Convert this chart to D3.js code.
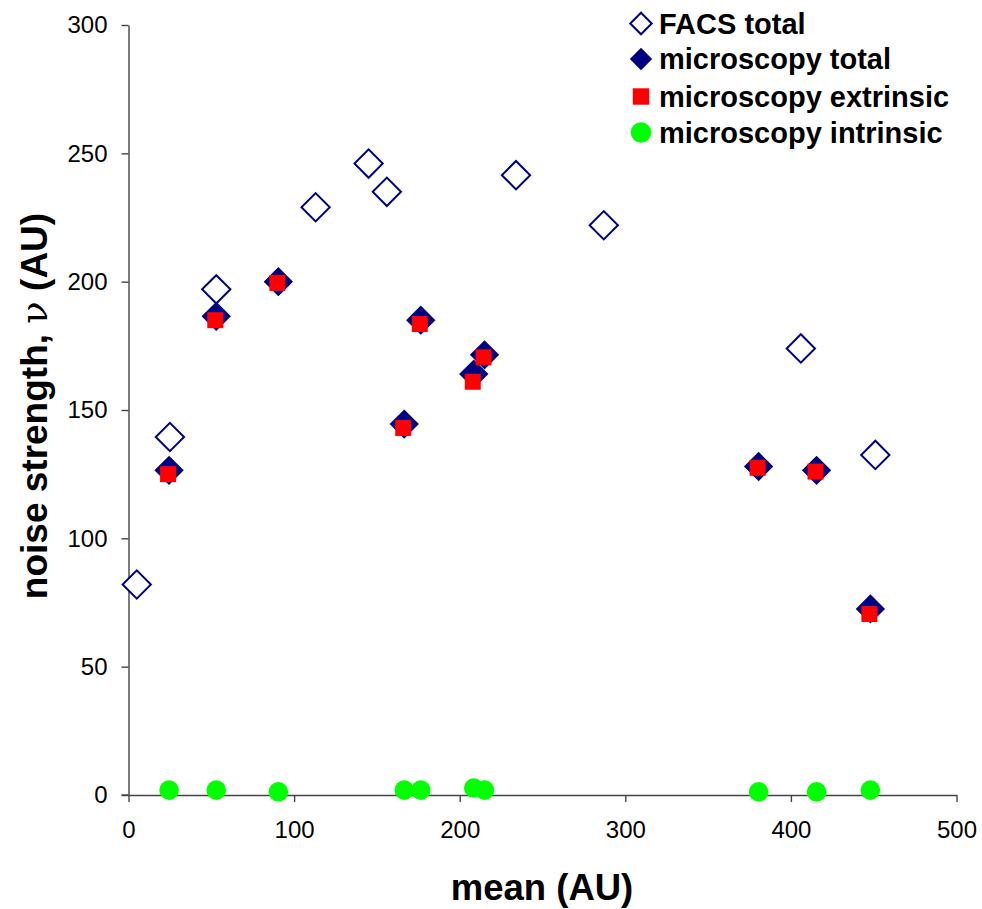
<!DOCTYPE html>
<html>
<head>
<meta charset="utf-8">
<script src="https://cdn.jsdelivr.net/npm/d3@7"></script>
<style>
  body { margin: 0; background: #fff; }
  svg { font-family: "Liberation Sans", Arial, sans-serif; }
</style>
</head>
<body>
<svg width="982" height="909"></svg>
<script>
// values
let facsMean = [5, 25, 53, 113, 145, 156, 234, 287, 406, 451];
let facsNoise = [82, 139.5, 197, 229, 246, 235, 241.5, 222, 174, 132.5];

let microMean = [24.5, 53, 90.5, 166.5, 176.5, 208.5, 215, 380.5, 415.5, 448];
let microTotal = [126.5, 186.5, 200, 144.5, 185, 164, 171.5, 128, 126.5, 72.5];
let microExtrinsic = [125, 185, 199.5, 143, 183.5, 161, 170.5, 127.5, 126, 70.5];
let microIntrinsic = [1.9, 1.9, 1.2, 1.9, 1.9, 2.7, 1.9, 1.2, 1.2, 1.9];

let xTicks = [0, 100, 200, 300, 400, 500];
let yTicks = [0, 50, 100, 150, 200, 250, 300];
let legendNames = ['FACS total', 'microscopy total', 'microscopy extrinsic', 'microscopy intrinsic'];

let svg = d3.select('svg');
let navy = '#000080';

let x = d3.scaleLinear().domain([0, 500]).range([128.5, 956.5]);
let y = d3.scaleLinear().domain([0, 300]).range([795, 25]);

// axes
let xAxis = svg.append('g')
  .attr('transform', 'translate(0,' + y(0) + ')')
  .call(d3.axisBottom(x).tickValues(xTicks).tickSize(7).tickPadding(19).tickSizeOuter(0));
let yAxis = svg.append('g')
  .attr('transform', 'translate(' + x(0) + ',0)')
  .call(d3.axisLeft(y).tickValues(yTicks).tickSize(7).tickPadding(14).tickSizeOuter(0));

[xAxis, yAxis].forEach(a => {
  a.select('.domain').attr('stroke', '#444').attr('stroke-width', 1.4);
  a.selectAll('.tick line').attr('stroke', '#444').attr('stroke-width', 1.4);
  a.selectAll('.tick text')
    .attr('fill', '#000')
    .style('font-size', '24px')
    .style('font-family', '"Liberation Sans", Arial, sans-serif');
});
// x axis line also runs under the y axis tick
svg.append('line')
  .attr('x1', x(0) - 7).attr('x2', x(0))
  .attr('y1', y(0)).attr('y2', y(0))
  .attr('stroke', '#444').attr('stroke-width', 1.4);

// marker shapes
let diamond = d3.symbol().type(d3.symbolSquare).size(400);
let diamondBig = d3.symbol().type(d3.symbolSquare).size(430);
let square = d3.symbol().type(d3.symbolSquare).size(256);

// FACS total (open diamonds)
svg.append('g').selectAll('path')
  .data(facsMean)
  .enter()
  .append('path')
  .attr('d', diamond())
  .attr('transform', (d, i) => 'translate(' + x(d) + ',' + y(facsNoise[i]) + ') rotate(45)')
  .attr('fill', '#fff')
  .attr('stroke', navy)
  .attr('stroke-width', 2);

// microscopy total (filled diamonds)
svg.append('g').selectAll('path')
  .data(microMean)
  .enter()
  .append('path')
  .attr('d', diamondBig())
  .attr('transform', (d, i) => 'translate(' + x(d) + ',' + y(microTotal[i]) + ') rotate(45)')
  .attr('fill', navy);

// microscopy extrinsic (red squares)
svg.append('g').selectAll('path')
  .data(microMean)
  .enter()
  .append('path')
  .attr('d', square())
  .attr('transform', (d, i) => 'translate(' + (x(d) - 1) + ',' + y(microExtrinsic[i]) + ')')
  .attr('fill', '#ff0000');

// microscopy intrinsic (green dots)
svg.append('g').selectAll('circle')
  .data(microMean)
  .enter()
  .append('circle')
  .attr('cx', d => x(d))
  .attr('cy', (d, i) => y(microIntrinsic[i]))
  .attr('r', 9.8)
  .attr('fill', '#00ff00');

// axis titles
svg.append('text')
  .attr('x', 542)
  .attr('y', 900)
  .attr('text-anchor', 'middle')
  .style('font-size', '36.5px')
  .style('font-weight', 'bold')
  .text('mean (AU)');

let yTitle = svg.append('text')
  .attr('transform', 'translate(47,406) rotate(-90)')
  .attr('text-anchor', 'middle')
  .style('font-size', '37px')
  .style('font-weight', 'bold');
yTitle.append('tspan').text('noise strength, ');
yTitle.append('tspan').style('font-weight', 'normal').style('font-family', '"DejaVu Serif", serif').text('ν');
yTitle.append('tspan').text(' (AU)');

// legend
let legend = svg.append('g').attr('transform', 'translate(641,0)');
let rows = legend.selectAll('g')
  .data(legendNames)
  .enter()
  .append('g')
  .attr('transform', (d, i) => 'translate(0,' + [23.5, 59, 96.5, 132.5][i] + ')');

rows.append('text')
  .attr('x', 18)
  .attr('y', 10)
  .style('font-size', '29px')
  .style('font-weight', 'bold')
  .text(d => d);

rows.each(function (d, i) {
  let g = d3.select(this);
  if (i === 0) {
    g.append('path').attr('d', d3.symbol().type(d3.symbolSquare).size(230)())
      .attr('transform', 'rotate(45)')
      .attr('fill', '#fff').attr('stroke', navy).attr('stroke-width', 2);
  } else if (i === 1) {
    g.append('path').attr('d', d3.symbol().type(d3.symbolSquare).size(250)())
      .attr('transform', 'rotate(45)')
      .attr('fill', navy);
  } else if (i === 2) {
    g.append('path').attr('d', d3.symbol().type(d3.symbolSquare).size(270)())
      .attr('fill', '#ff0000');
  } else {
    g.append('circle').attr('r', 10.3).attr('fill', '#00ff00');
  }
});
</script>
</body>
</html>
